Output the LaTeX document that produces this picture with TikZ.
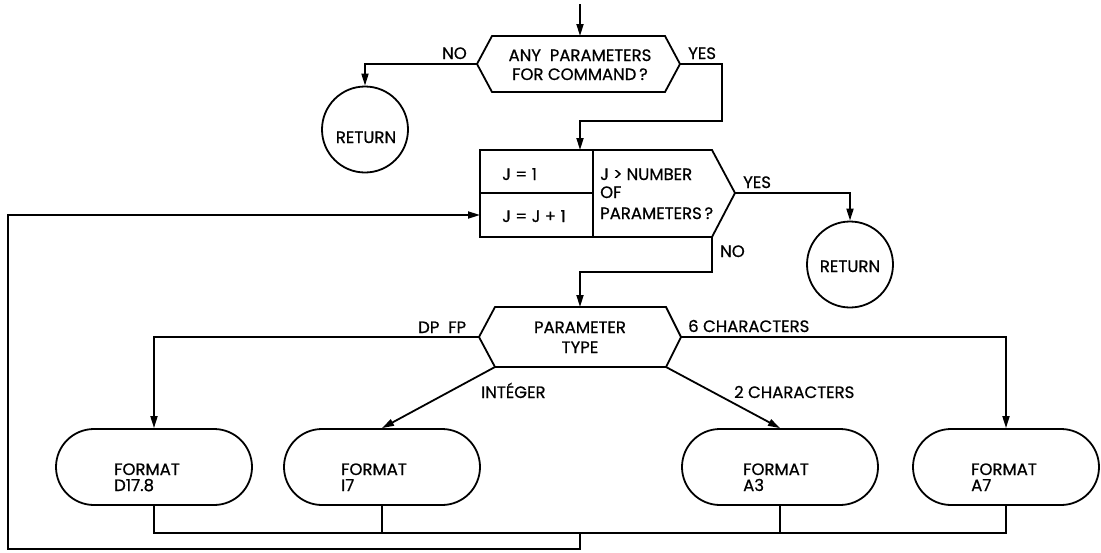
\documentclass[tikz,border=0pt]{standalone}
\usepackage{fontspec}
\setmainfont{Poppins}[FakeBold=0.7]
\usetikzlibrary{arrows.meta}
\begin{document}
\begin{tikzpicture}[x=1pt,y=-1pt,
  line/.style={line width=1.8pt, line join=miter},
  arr/.style={line, -{Triangle[length=12pt,width=7pt]}},
  txt/.style={font=\fontsize{16.5}{19}\selectfont, inner sep=0pt},
  lbl/.style={txt, anchor=base west},
  ctr/.style={txt, anchor=base},
  term/.style={draw, line width=1.8pt, rounded corners=38pt, minimum width=196pt, minimum height=76pt, inner sep=0pt},
  ret/.style={draw, circle, line width=1.8pt, minimum size=86pt, inner sep=0pt},
]
\useasboundingbox (0,0) rectangle (1101,552);

% ---------- decision 1
\coordinate (h1w) at (477,64);
\coordinate (h1e) at (680,64);
\coordinate (h1n) at (580,36);
\coordinate (start) at (580,4);
\draw[line] (h1w) -- (492,36) -- (665,36) -- (h1e) -- (665,92) -- (492,92) -- cycle;
\node[ctr] (h1a) at (580,61) {ANY\ \ PARAMETERS};
\node[ctr] (h1b) at (580,80) {FOR COMMAND\,?};
\node[lbl] (no1) at (442,59) {NO};
\node[lbl] (yes1) at (688,59) {YES};
\draw[arr] (start) -- (h1n);

% ---------- return 1
\node[ret] (r1) at (365,129.5) {};
\node[ctr] (r1t) at (366,143) {RETURN};
\draw[arr] (h1w) -| (r1.north);

% ---------- loop box
\coordinate (bn) at (580,150);
\coordinate (bp) at (735,193);
\coordinate (bse) at (712,237);
\coordinate (jin) at (480,215);
\draw[line] (480,150) -- (712,150) -- (bp) -- (bse) -- (480,237) -- cycle;
\draw[line] (593,150) -- (593,237);
\draw[line] (480,193) -- (593,193);
\node[lbl] (j1) at (502,180) {J = 1};
\node[lbl] (j2) at (502,222) {J = J + 1};
\node[lbl] (q1) at (600,180) {J > NUMBER};
\node[lbl] (q2) at (600,198) {OF};
\node[lbl] (q3) at (600,219) {PARAMETERS\,?};
\node[lbl] (yes2) at (743,188) {YES};
\node[lbl] (no2) at (720,257) {NO};
\draw[arr] (h1e) -- (722,64) -- (722,121) -- (580,121) -- (bn);

% ---------- return 2
\node[ret] (r2) at (850,264.5) {};
\node[ctr] (r2t) at (850,272) {RETURN};
\draw[arr] (bp) -| (r2.north);

% ---------- decision 2
\coordinate (h2w) at (479,337);
\coordinate (h2e) at (681,337);
\coordinate (h2n) at (580,307);
\coordinate (h2sw) at (495,367);
\coordinate (h2se) at (666,367);
\draw[line] (h2w) -- (495,307) -- (666,307) -- (h2e) -- (h2se) -- (h2sw) -- cycle;
\node[ctr] (h2a) at (580,333) {PARAMETER};
\node[ctr] (h2b) at (580,353) {TYPE};
\draw[arr] (bse) -- (712,272) -- (580,272) -- (h2n);

% ---------- terminals
\node[term] (t1) at (154,467) {};
\node[term] (t2) at (382,467) {};
\node[term] (t3) at (780,467) {};
\node[term, minimum width=186pt] (t4) at (1006,467) {};
\node[lbl] (t1a) at (114,475) {FORMAT};
\node[lbl] (t1b) at (114,491) {D17.8};
\node[lbl] (t2a) at (341,475) {FORMAT};
\node[lbl] (t2b) at (341,491) {I7};
\node[lbl] (t3a) at (743,475) {FORMAT};
\node[lbl] (t3b) at (743,491) {A3};
\node[lbl] (t4a) at (971,475) {FORMAT};
\node[lbl] (t4b) at (971,491) {A7};

\node[lbl] (dpfp) at (418,333) {DP\ \ FP};
\node[lbl] (six) at (688,332) {6 CHARACTERS};
\node[lbl] (intg) at (481,398) {INTÉGER};
\node[lbl] (two) at (734,398) {2 CHARACTERS};

\draw[arr] (h2w) -| (t1.north);
\draw[arr] (h2e) -| (t4.north);
\draw[arr] (h2sw) -- (t2.north);
\draw[arr] (h2se) -- (t3.north);

% ---------- collector and loop back
\coordinate (cL) at (154,533);
\coordinate (cR) at (1006,533);
\coordinate (lp) at (580,533);
\draw[line] (t1.south) -- (cL) -- (cR) -- (t4.south);
\draw[line] (t2.south) -- (t2.south |- cL);
\draw[line] (t3.south) -- (t3.south |- cL);
\draw[arr] (lp) -- (580,549) -- (8,549) -- (8,215) -- (jin);
\end{tikzpicture}
\end{document}
